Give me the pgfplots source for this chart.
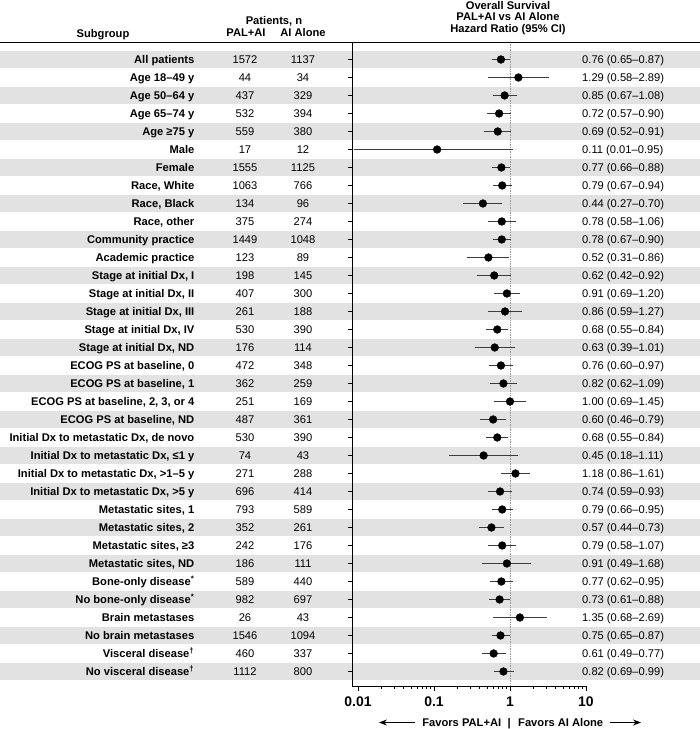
\documentclass[border=0pt]{standalone}
\usepackage{fontspec}
\setmainfont{Liberation Sans}
\usepackage{pgfplots}
\usepackage{pgfplotstable}
\pgfplotsset{compat=1.18}
\usetikzlibrary{arrows.meta}
\definecolor{band}{RGB}{226,226,226}
\definecolor{ebar}{RGB}{60,60,60}
\newcommand\fs{\fontsize{11.2}{13}\selectfont}

\pgfplotstableread[col sep=semicolon]{
row;label;npal;nai;hr;lo;hi
0;All patients;1572;1137;0.76;0.65;0.87
1;Age 18–49 y;44;34;1.29;0.58;2.89
2;Age 50–64 y;437;329;0.85;0.67;1.08
3;Age 65–74 y;532;394;0.72;0.57;0.90
4;Age ≥75 y;559;380;0.69;0.52;0.91
5;Male;17;12;0.11;0.01;0.95
6;Female;1555;1125;0.77;0.66;0.88
7;Race, White;1063;766;0.79;0.67;0.94
8;Race, Black;134;96;0.44;0.27;0.70
9;Race, other;375;274;0.78;0.58;1.06
10;Community practice;1449;1048;0.78;0.67;0.90
11;Academic practice;123;89;0.52;0.31;0.86
12;Stage at initial Dx, I;198;145;0.62;0.42;0.92
13;Stage at initial Dx, II;407;300;0.91;0.69;1.20
14;Stage at initial Dx, III;261;188;0.86;0.59;1.27
15;Stage at initial Dx, IV;530;390;0.68;0.55;0.84
16;Stage at initial Dx, ND;176;114;0.63;0.39;1.01
17;ECOG PS at baseline, 0;472;348;0.76;0.60;0.97
18;ECOG PS at baseline, 1;362;259;0.82;0.62;1.09
19;ECOG PS at baseline, 2, 3, or 4;251;169;1.00;0.69;1.45
20;ECOG PS at baseline, ND;487;361;0.60;0.46;0.79
21;Initial Dx to metastatic Dx, de novo;530;390;0.68;0.55;0.84
22;Initial Dx to metastatic Dx, ≤1 y;74;43;0.45;0.18;1.11
23;Initial Dx to metastatic Dx, >1–5 y;271;288;1.18;0.86;1.61
24;Initial Dx to metastatic Dx, >5 y;696;414;0.74;0.59;0.93
25;Metastatic sites, 1;793;589;0.79;0.66;0.95
26;Metastatic sites, 2;352;261;0.57;0.44;0.73
27;Metastatic sites, ≥3;242;176;0.79;0.58;1.07
28;Metastatic sites, ND;186;111;0.91;0.49;1.68
29;Bone-only disease\textsuperscript{*};589;440;0.77;0.62;0.95
30;No bone-only disease\textsuperscript{*};982;697;0.73;0.61;0.88
31;Brain metastases;26;43;1.35;0.68;2.69
32;No brain metastases;1546;1094;0.75;0.65;0.87
33;Visceral disease\textsuperscript{†};460;337;0.61;0.49;0.77
34;No visceral disease\textsuperscript{†};1112;800;0.82;0.69;0.99
}\datatable

\begin{document}
\begin{tikzpicture}
% alternating row bands
\begin{scope}[x=1bp,y=1bp]
\foreach \i in {0,2,...,34} {
  \fill[band] (0,{669.5-18*\i-8.5}) rectangle (700,{669.5-18*\i+8.5});
}
\end{scope}
\begin{axis}[
  at={(352bp,43bp)}, anchor=south west,
  scale only axis, width=234bp, height=644bp,
  xmode=log, xmin=0.008339, xmax=10,
  y dir=reverse, ymin=-0.972, ymax=34.806,
  axis x line*=bottom, axis y line*=left,
  axis line style={line width=0.9bp, black, -},
  clip=false,
  xtick={0.01,0.1,1,10}, xticklabels={0.01,0.1,1,10},
  minor xtick={0.02,0.03,0.04,0.05,0.06,0.07,0.08,0.09,0.2,0.3,0.4,0.5,0.6,0.7,0.8,0.9,2,3,4,5,6,7,8,9},
  ytick={0,1,...,34}, yticklabels from table={\datatable}{label},
  tick align=outside, major tick length=4.5bp, minor tick length=2.5bp,
  tick style={line width=0.7bp, black},
  xticklabel style={font=\bfseries\fontsize{14}{16}\selectfont, anchor=base, inner sep=0pt, yshift=-16bp},
  yticklabel style={font=\bfseries\fs, anchor=base east, inner sep=0pt, xshift=-153bp, yshift=-4bp},
  xlabel={Favors PAL+AI\hspace{6.5bp}|\hspace{7.4bp}Favors AI Alone},
  xlabel style={font=\bfseries\fs, at={(axis description cs:0.687,0)}, anchor=base, inner sep=0pt, yshift=-40.7bp},
]
% reference line at HR = 1
\addplot[densely dotted, gray!80, line width=0.7bp, forget plot] coordinates {(1,-0.972) (1,34.806)};
% hazard ratios with 95% CI
\addplot[only marks, mark=*, mark size=3.9bp, black,
  error bars/.cd, x dir=both, x explicit,
  error bar style={line width=0.7bp, ebar},
  error mark options={mark size=4.2bp, line width=0.7bp, ebar}]
  table[x=hr, y=row, x error plus expr={\thisrow{hi}-\thisrow{hr}}, x error minus expr={\thisrow{hr}-\thisrow{lo}}] {\datatable};
% PAL+AI n
\addplot[only marks, mark=none,
  nodes near coords, point meta=explicit symbolic,
  nodes near coords style={font=\fs, anchor=base, inner sep=0pt, xshift=-265bp, yshift=-4bp}]
  table[x expr=1, y=row, meta=npal] {\datatable};
% AI Alone n
\addplot[only marks, mark=none,
  nodes near coords, point meta=explicit symbolic,
  nodes near coords style={font=\fs, anchor=base, inner sep=0pt, xshift=-207bp, yshift=-4bp}]
  table[x expr=1, y=row, meta=nai] {\datatable};
% HR (95% CI) text
\addplot[only marks, mark=none,
  visualization depends on={\thisrow{lo}\as\lo},
  visualization depends on={\thisrow{hi}\as\hi},
  point meta=\thisrow{hr},
  nodes near coords={\pgfmathprintnumber{\pgfplotspointmeta} (\pgfmathprintnumber{\lo}–\pgfmathprintnumber{\hi})},
  nodes near coords style={font=\fs, black, anchor=base west, inner sep=0pt, xshift=72bp, yshift=-4bp,
    /pgf/number format/.cd, fixed, fixed zerofill, precision=2, assume math mode=true}]
  table[x expr=1, y=row] {\datatable};
\end{axis}
\begin{scope}[x=1bp,y=1bp]
\draw[line width=0.9bp] (0,687) -- (700,687);
\node[font=\bfseries\fs, anchor=base, inner sep=0pt] at (103,691) {Subgroup};
\node[font=\bfseries\fs, anchor=base, inner sep=0pt] at (274,704) {Patients, n};
\node[font=\bfseries\fs, anchor=base, inner sep=0pt] at (246,692.3) {PAL+AI};
\node[font=\bfseries\fs, anchor=base, inner sep=0pt] at (303,692.3) {AI Alone};
\node[font=\bfseries\fs, anchor=base, inner sep=0pt] at (508,719.7) {Overall Survival};
\node[font=\bfseries\fs, anchor=base, inner sep=0pt] at (508,708) {PAL+AI vs AI Alone};
\node[font=\bfseries\fs, anchor=base, inner sep=0pt] at (508,696) {Hazard Ratio (95\% CI)};
\draw[line width=0.9bp, -{Stealth[length=8bp,width=6bp]}] (415,6.5) -- (379,6.5);
\draw[line width=0.9bp, -{Stealth[length=8bp,width=6bp]}] (610,6.5) -- (641,6.5);
\end{scope}
\pgfresetboundingbox
\path[use as bounding box] (0,0) rectangle (700bp,729bp);
\end{tikzpicture}
\end{document}
